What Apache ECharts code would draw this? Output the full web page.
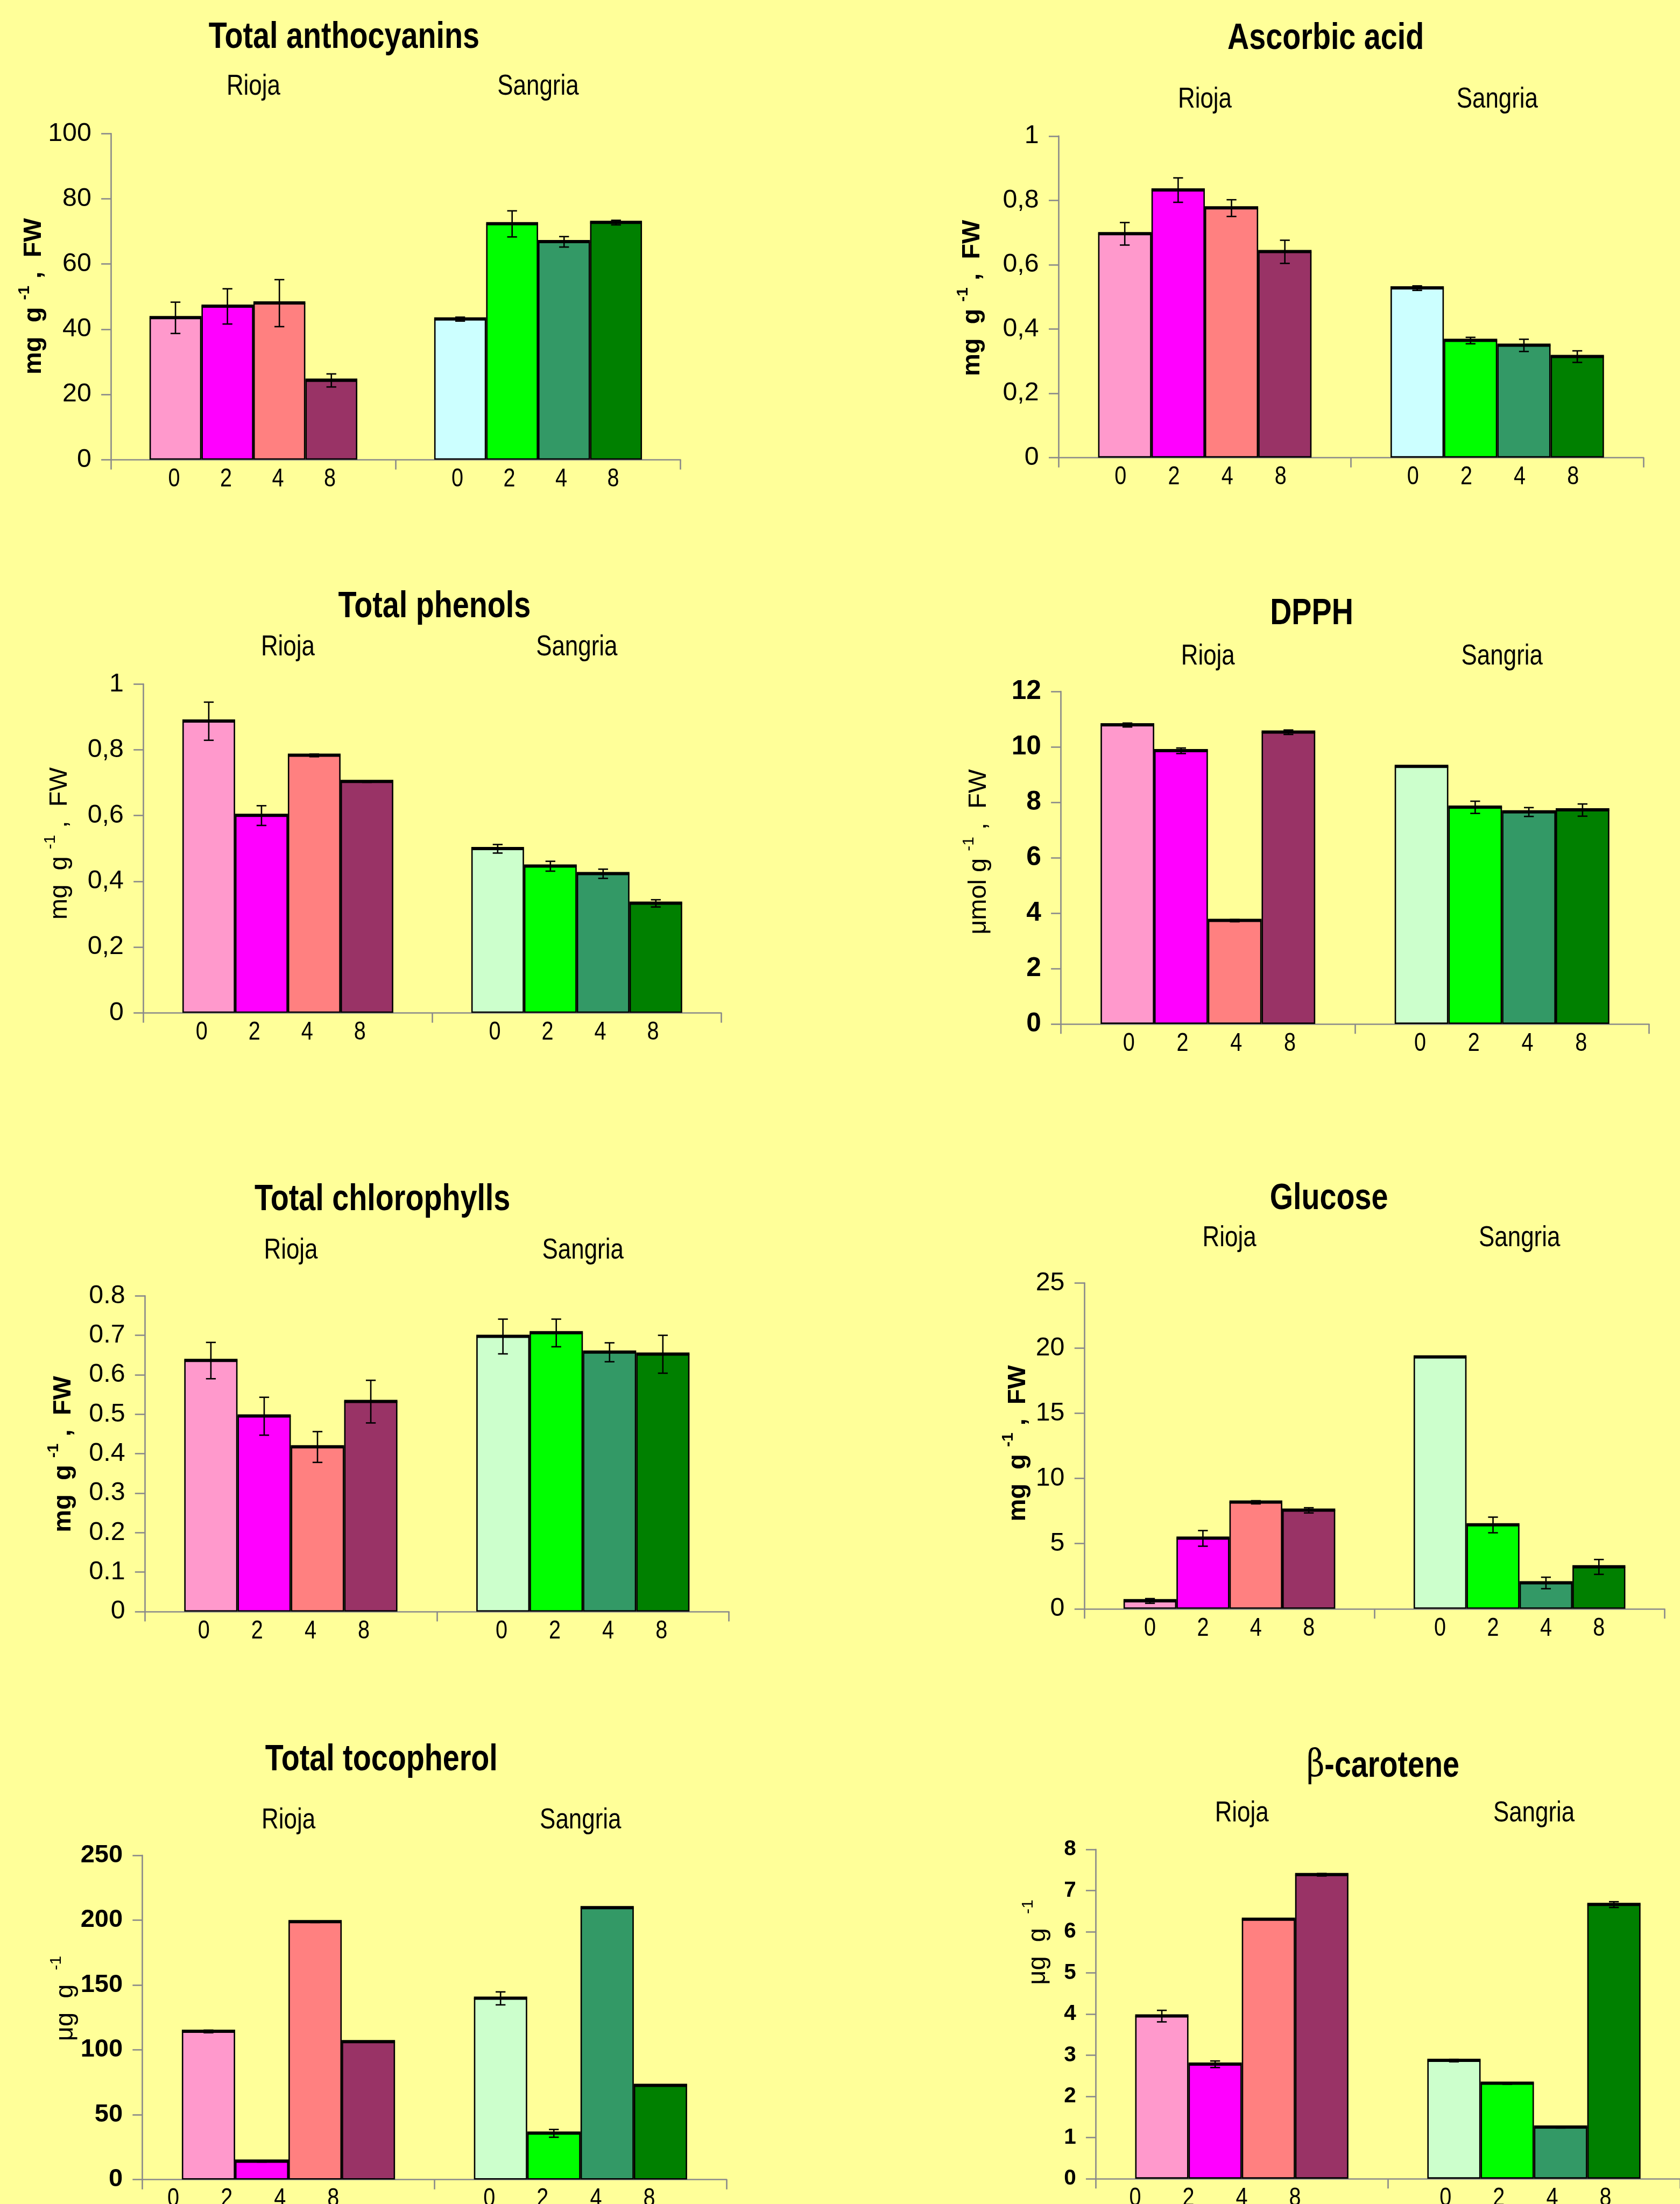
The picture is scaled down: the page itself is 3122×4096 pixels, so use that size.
<!DOCTYPE html>
<html><head><meta charset="utf-8">
<script src="https://cdn.jsdelivr.net/npm/echarts@6/dist/echarts.min.js"></script>
<style>html,body{margin:0;padding:0;background:#FFFF99;overflow:hidden}#c{width:3122px;height:4096px;}</style>
</head><body><div id="c"></div>
<script>
// ---------- data ----------
const groups = ['Rioja', 'Sangria'];
const days = ['0', '2', '4', '8'];

const anthoRioja = [43.5, 47.0, 48.0, 24.3];
const anthoRiojaErr = [4.8, 5.4, 7.2, 2.0];
const anthoSangria = [43.1, 72.3, 66.8, 72.7];
const anthoSangriaErr = [0.6, 4.0, 1.6, 0.7];

const ascRioja = [0.696, 0.832, 0.776, 0.640];
const ascRiojaErr = [0.035, 0.038, 0.026, 0.036];
const ascSangria = [0.527, 0.364, 0.349, 0.314];
const ascSangriaErr = [0.007, 0.010, 0.019, 0.018];

const phenRioja = [0.887, 0.600, 0.783, 0.703];
const phenRiojaErr = [0.058, 0.030, 0.004, 0.002];
const phenSangria = [0.499, 0.446, 0.423, 0.333];
const phenSangriaErr = [0.013, 0.015, 0.014, 0.011];

const dpphRioja = [10.79, 9.86, 3.73, 10.53];
const dpphRiojaErr = [0.07, 0.10, 0.04, 0.08];
const dpphSangria = [9.29, 7.82, 7.65, 7.72];
const dpphSangriaErr = [0, 0.22, 0.16, 0.22];

const chlRioja = [0.636, 0.495, 0.417, 0.532];
const chlRiojaErr = [0.046, 0.048, 0.039, 0.054];
const chlSangria = [0.697, 0.706, 0.657, 0.652];
const chlSangriaErr = [0.044, 0.035, 0.024, 0.048];

const gluRioja = [0.60, 5.40, 8.17, 7.55];
const gluRiojaErr = [0.18, 0.6, 0.12, 0.2];
const gluSangria = [19.31, 6.43, 1.98, 3.21];
const gluSangriaErr = [0.02, 0.6, 0.44, 0.57];

const tocRioja = [114.2, 14.0, 198.7, 106.2];
const tocRiojaErr = [1.0, 0.5, 0.5, 0];
const tocSangria = [139.7, 35.6, 209.5, 72.5];
const tocSangriaErr = [5.0, 3.0, 0, 0];

const carRioja = [3.95, 2.78, 6.30, 7.385];
const carRiojaErr = [0.14, 0.08, 0, 0.03];
const carSangria = [2.87, 2.315, 1.25, 6.66];
const carSangriaErr = [0.03, 0.02, 0.02, 0.07];

// ---------- styles ----------
const S = 3122 / 1195;
const ARIAL = "'Liberation Sans',Arial,sans-serif";
const NARROWX = 0.82;          // horizontal squeeze imitating a narrow face
const GAP = 0.27;
const GREY = '#8a8a8a';
const rioColors = ['#FF99CC', '#FF00FF', '#FF8080', '#993366'];
const sanColorsBase = ['#00FF00', '#339966', '#008000'];

const fmtInt = v => String(Math.round(v));
const fmtDot = v => String(+(+v).toFixed(2));
const fmtComma = v => String(+(+v).toFixed(2)).replace('.', ',');

const panels = [
  {title:'Total anthocyanins', tx:244.7, ty:26.8, L:79, R:484, T:95, B:327, max:100, step:20, fmt:fmtInt,
   yn:['mg  g ','-1',' ,  FW'], yx:22.5, yy:210.8, yb:true, gm:23.4, s0:'#CCFFFF',
   rio:anthoRioja, rioE:anthoRiojaErr, san:anthoSangria, sanE:anthoSangriaErr, dR:-1, dS:-2, ts:18.5, tw:'normal'},
  {title:'Ascorbic acid', tx:943, ty:27.6, L:753, R:1169, T:96.8, B:325.5, max:1, step:0.2, fmt:fmtComma,
   yn:['mg  g ','-1',' ,  FW'], yx:690, yy:212, yb:true, gm:15.8, s0:'#CCFFFF',
   rio:ascRioja, rioE:ascRiojaErr, san:ascSangria, sanE:ascSangriaErr, dR:-3, dS:-3, ts:18.5, tw:'normal'},
  {title:'Total phenols', tx:309, ty:432, L:102, R:513, T:486.6, B:720.5, max:1, step:0.2, fmt:fmtComma,
   yn:['mg  g ','-1',' ,  FW'], yx:40.8, yy:600, yb:false, gm:16, s0:'#CCFFCC',
   rio:phenRioja, rioE:phenRiojaErr, san:phenSangria, sanE:phenSangriaErr, dR:-5, dS:-2, ts:18.5, tw:'normal'},
  {title:'DPPH', tx:933, ty:436.8, L:754.6, R:1173, T:491.9, B:728.4, max:12, step:2, fmt:fmtInt,
   yn:['\u03bcmol g ','-1',' ,  FW'], yx:694.5, yy:606, yb:false, gm:14.7, s0:'#CCFFCC',
   rio:dpphRioja, rioE:dpphRiojaErr, san:dpphSangria, sanE:dpphSangriaErr, dR:1, dS:-1, ts:19, tw:'bold'},
  {title:'Total chlorophylls', tx:272, ty:853.6, L:103, R:518.5, T:921.8, B:1146.4, max:0.8, step:0.1, fmt:fmtDot,
   yn:['mg  g ','-1',' ,  FW'], yx:43.2, yy:1034.4, yb:true, gm:22, s0:'#CCFFCC',
   rio:chlRioja, rioE:chlRiojaErr, san:chlSangria, sanE:chlSangriaErr, dR:-5, dS:-1, ts:18.5, tw:'normal'},
  {title:'Glucose', tx:945.3, ty:853, L:771.3, R:1184, T:912.6, B:1144.4, max:25, step:5, fmt:fmtInt,
   yn:['mg  g ','-1',' ,  FW'], yx:722.4, yy:1026.7, yb:true, gm:21.6, s0:'#CCFFCC',
   rio:gluRioja, rioE:gluRiojaErr, san:gluSangria, sanE:gluSangriaErr, dR:0, dS:0, ts:18.5, tw:'normal'},
  {title:'Total tocopherol', tx:271.3, ty:1252.2, L:101.3, R:516.8, T:1319.8, B:1550.4, max:250, step:50, fmt:fmtInt,
   yn:['\u03bcg  g  ','-1',''], yx:45, yy:1421.6, yb:false, gm:14.8, s0:'#CCFFCC',
   rio:tocRioja, rioE:tocRiojaErr, san:tocSangria, sanE:tocSangriaErr, dR:-25, dS:-8, ts:18, tw:'bold'},
  {title:'\u03b2-carotene', tx:983.7, ty:1256.6, L:779.4, R:1208, T:1315.6, B:1549.8, max:8, step:1, fmt:fmtInt,
   yn:['\u03bcg  g  ','-1',''], yx:736.4, yy:1381.6, yb:false, gm:15.6, s0:'#CCFFCC',
   rio:carRioja, rioE:carRiojaErr, san:carSangria, sanE:carSangriaErr, dR:-19, dS:-6, ts:15.5, tw:'bold'}
];

const option = {backgroundColor:'#FFFF99', animation:false, grid:[], xAxis:[], yAxis:[], series:[], graphic:[]};

panels.forEach((p, i) => {
  const sanColors = [p.s0].concat(sanColorsBase);
  option.grid.push({left:p.L*S, top:p.T*S, width:(p.R-p.L)*S, height:(p.B-p.T)*S, containLabel:false});
  option.xAxis.push({type:'category', gridIndex:i, data:groups, position:'bottom',
    axisLine:{show:true, lineStyle:{color:GREY, width:1*S}},
    axisTick:{show:true, length:7*S, lineStyle:{color:GREY, width:1*S}},
    axisLabel:{show:false}, splitLine:{show:false}});
  option.yAxis.push({type:'value', gridIndex:i, min:0, max:p.max, interval:p.step,
    axisLine:{show:true, lineStyle:{color:GREY, width:1*S}},
    axisTick:{show:true, length:7*S, lineStyle:{color:GREY, width:1*S}},
    splitLine:{show:false},
    axisLabel:{margin:14*S, fontSize:p.ts*S, fontFamily:ARIAL, fontWeight:p.tw, color:'#000', formatter:p.fmt}});

  days.forEach((d, j) => {
    option.series.push({type:'bar', name:d, xAxisIndex:i, yAxisIndex:i,
      barGap:'0%', barCategoryGap:(GAP*100)+'%',
      itemStyle:{borderColor:'#000', borderWidth:1*S},
      data:[
        {value:p.rio[j], itemStyle:{color:rioColors[j]}},
        {value:p.san[j], itemStyle:{color:sanColors[j]}}
      ]});
  });

  // error bars, bar-top edges and time labels (0,2,4,8) under each bar
  const ebData = [];
  days.forEach((d, j) => {
    ebData.push([0, p.rio[j], p.rioE[j], j]);
    ebData.push([1, p.san[j], p.sanE[j], j]);
  });
  option.series.push({type:'custom', xAxisIndex:i, yAxisIndex:i, z:5, silent:true, clip:false,
    encode:{x:0, y:1}, data:ebData,
    renderItem:(params, api) => {
      const cat = api.value(0), v = api.value(1), e = api.value(2), j = api.value(3);
      const c = api.coord([cat, v]);
      const y0 = api.coord([cat, 0])[1];
      const band = api.size([1, 0])[0];
      const bw = band * (1 - GAP) / 4;
      const x = c[0] + (j - 1.5) * bw;
      const ch = [{type:'line', shape:{x1:x-bw/2, y1:c[1]-0.4*S, x2:x+bw/2, y2:c[1]-0.4*S},
                   style:{stroke:'#000', lineWidth:1.8*S}}];
      if (e > 0) {
        const yt = api.coord([cat, v + e])[1], yb = api.coord([cat, v - e])[1];
        const cw = 3.5*S;
        ch.push({type:'line', shape:{x1:x, y1:yt, x2:x, y2:yb}, style:{stroke:'#000', lineWidth:1*S}});
        ch.push({type:'line', shape:{x1:x-cw, y1:yt, x2:x+cw, y2:yt}, style:{stroke:'#000', lineWidth:1*S}});
        ch.push({type:'line', shape:{x1:x-cw, y1:yb, x2:x+cw, y2:yb}, style:{stroke:'#000', lineWidth:1*S}});
      }
      const dx = (cat === 0 ? p.dR : p.dS) * S;
      ch.push({type:'text', x:x+dx, y:y0 + 14*S, scaleX:NARROWX,
        style:{text:days[j], fontSize:18.5*S, fontFamily:ARIAL, fill:'#000', align:'center', verticalAlign:'middle'}});
      return {type:'group', children:ch};
    }});

  // group names (Rioja / Sangria) above each category
  option.series.push({type:'custom', xAxisIndex:i, yAxisIndex:i, z:5, silent:true, clip:false,
    encode:{x:0}, data:groups.map((g, k) => [k]),
    renderItem:(params, api) => {
      const k = api.value(0);
      const c = api.coord([k, p.max]);
      return {type:'text', x:c[0], y:c[1] - (p.gm + 10)*S, scaleX:NARROWX,
        style:{text:groups[k], fontSize:20.5*S, fontFamily:ARIAL, fill:'#000', align:'center', verticalAlign:'middle'}};
    }});

  // title
  if (p.title.charAt(0) === '\u03b2') {
    option.graphic.push({type:'text', x:p.tx*S, y:p.ty*S, z:10, scaleX:NARROWX,
      style:{text:'{g|\u03b2}{t|' + p.title.slice(1) + '}', align:'center', verticalAlign:'middle',
        rich:{g:{fontSize:27*S, fontFamily:"'DejaVu Serif',serif", fontWeight:'normal', fill:'#000'},
              t:{fontSize:26*S, fontFamily:ARIAL, fontWeight:'bold', fill:'#000'}}}});
  } else {
    option.graphic.push({type:'text', x:p.tx*S, y:p.ty*S, z:10, scaleX:NARROWX,
      style:{text:p.title, fontSize:26*S, fontFamily:ARIAL, fontWeight:'bold', fill:'#000',
        align:'center', verticalAlign:'middle'}});
  }
  // y-axis name
  const f = 18*S, fs = 11.5*S, w = p.yb ? 'bold' : 'normal';
  let txt = '{m|' + p.yn[0] + '}{s|' + p.yn[1] + '}';
  if (p.yn[2]) txt += '{m|' + p.yn[2] + '}';
  option.graphic.push({type:'text', x:p.yx*S, y:p.yy*S, rotation:Math.PI/2, z:10,
    style:{text:txt, align:'center', verticalAlign:'middle',
      rich:{m:{fontSize:f, fontFamily:ARIAL, fontWeight:w, fill:'#000', lineHeight:f*1.2, verticalAlign:'bottom'},
            s:{fontSize:fs, fontFamily:ARIAL, fontWeight:w, fill:'#000', verticalAlign:'top'}}}});
});

const chart = echarts.init(document.getElementById('c'), null, {renderer:'canvas'});
chart.setOption(option);
</script>
</body></html>
